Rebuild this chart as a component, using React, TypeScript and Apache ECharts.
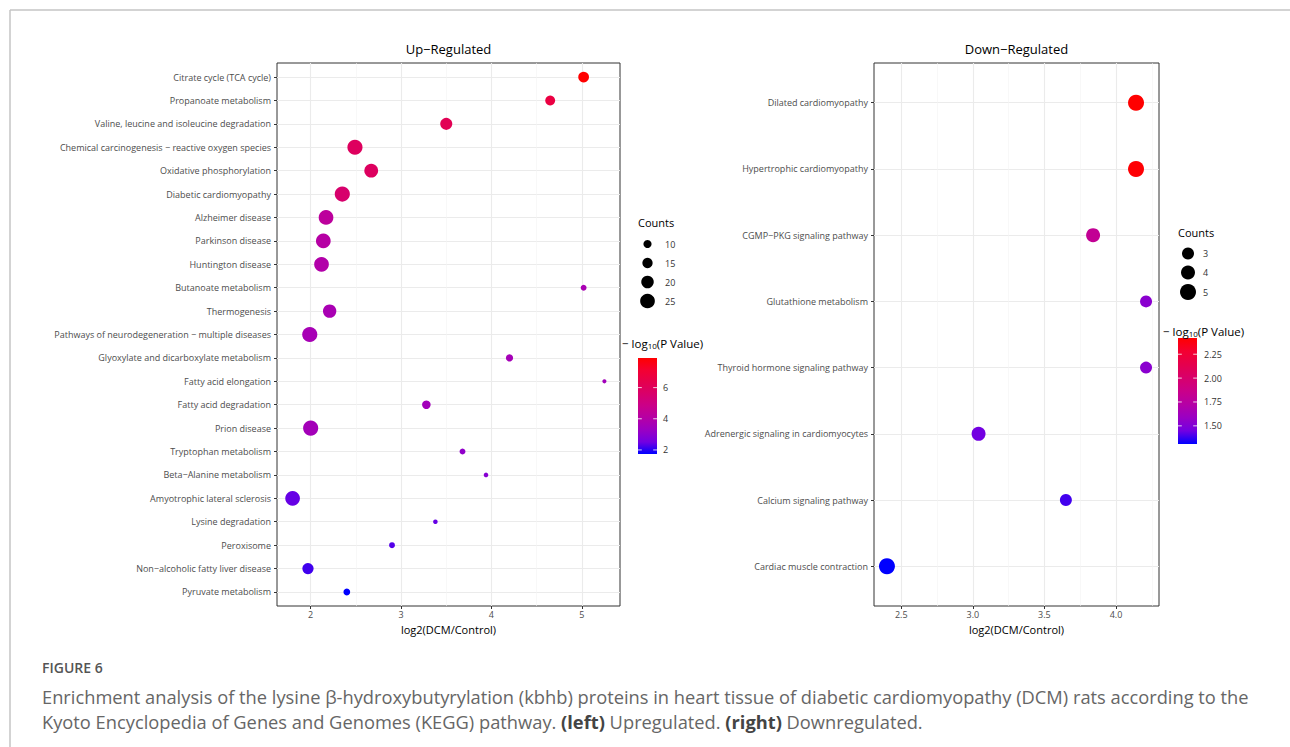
import React, { useEffect, useRef } from "react";
import * as echarts from "echarts";

// ---------------- DATA ----------------
const upCategories = [
  "Citrate cycle (TCA cycle)",
  "Propanoate metabolism",
  "Valine, leucine and isoleucine degradation",
  "Chemical carcinogenesis − reactive oxygen species",
  "Oxidative phosphorylation",
  "Diabetic cardiomyopathy",
  "Alzheimer disease",
  "Parkinson disease",
  "Huntington disease",
  "Butanoate metabolism",
  "Thermogenesis",
  "Pathways of neurodegeneration − multiple diseases",
  "Glyoxylate and dicarboxylate metabolism",
  "Fatty acid elongation",
  "Fatty acid degradation",
  "Prion disease",
  "Tryptophan metabolism",
  "Beta−Alanine metabolism",
  "Amyotrophic lateral sclerosis",
  "Lysine degradation",
  "Peroxisome",
  "Non−alcoholic fatty liver disease",
  "Pyruvate metabolism",
];
const upLog2FC = [5.02, 4.65, 3.5, 2.49, 2.67, 2.35, 2.17, 2.14, 2.12, 5.02, 2.21, 1.99, 4.2, 5.25, 3.28, 2.0, 3.68, 3.94, 1.8, 3.38, 2.9, 1.97, 2.4];
const upCounts = [16, 14, 19, 26, 23, 26, 25, 25, 25, 5, 22, 26, 8, 1, 11, 26, 5, 2, 25, 2, 5, 17, 7];
const upNegLogP = [7.9, 6.67, 6.18, 5.93, 5.9, 5.56, 4.3, 4.08, 3.96, 3.7, 3.7, 3.65, 3.6, 3.5, 3.5, 3.55, 3.1, 2.9, 2.42, 2.42, 2.3, 2.17, 1.74];

const downCategories = [
  "Dilated cardiomyopathy",
  "Hypertrophic cardiomyopathy",
  "CGMP−PKG signaling pathway",
  "Glutathione metabolism",
  "Thyroid hormone signaling pathway",
  "Adrenergic signaling in cardiomyocytes",
  "Calcium signaling pathway",
  "Cardiac muscle contraction",
];
const downLog2FC = [4.14, 4.14, 3.84, 4.21, 4.21, 3.04, 3.65, 2.4];
const downCounts = [5, 5, 4, 3, 3, 4, 3, 5];
const downNegLogP = [2.42, 2.41, 1.81, 1.53, 1.53, 1.45, 1.39, 1.31];

const upXTicks = [2, 3, 4, 5];
const downXTicks = [2.5, 3.0, 3.5, 4.0];
const upCountBreaks = [10, 15, 20, 25];
const downCountBreaks = [3, 4, 5];
const upPBreaks = [2, 4, 6];
const downPBreaks = [1.5, 1.75, 2.0, 2.25];

// ---------------- STYLE ----------------
const FONT = "'Open Sans', sans-serif";
const CAP_FONT = "'Open Sans', sans-serif";
// blue -> red interpolated in CIELAB (ggplot2 gradient)
const LAB_STOPS = ["#0000FF", "#7300E1", "#9A00C3", "#B500A5", "#CA0089", "#D8006B", "#E5004D", "#F40031", "#FF0000"];

const sizeUp = (c: number) => 3.7 + 0.44 * c;
const sizeDown = (c: number) => 6 + 2 * c;

const UP = { x0: 277, x1: 620, y0: 63, y1: 606 };
const DOWN = { x0: 874, x1: 1159, y0: 63, y1: 606 };

function expand(vals: number[]) {
  const mn = Math.min(...vals);
  const mx = Math.max(...vals);
  const d = (mx - mn) * 0.05;
  return [mn - d, mx + d];
}

function minorsOf(ticks: number[], lo: number, hi: number) {
  const step = ticks[1] - ticks[0];
  const out: number[] = [];
  for (let i = -1; i < ticks.length; i++) {
    const v = (i < 0 ? ticks[0] - step : ticks[i]) + step / 2;
    if (v > lo && v < hi) out.push(v);
  }
  return out;
}

function buildPanel(
  P: { x0: number; x1: number; y0: number; y1: number },
  cats: string[],
  xs: number[],
  counts: number[],
  ps: number[],
  ticks: number[],
  fmt: (v: number) => string,
  sizeFn: (c: number) => number,
  gi: number
) {
  const [lo, hi] = expand(xs);
  const n = cats.length;
  const spacing = (P.y1 - P.y0) / (n - 1 + 1.2);
  const catTop = P.y0 + 0.6 * spacing;
  const catBottom = P.y1 - 0.6 * spacing;
  const grids = [
    { left: P.x0, top: P.y0, width: P.x1 - P.x0, height: P.y1 - P.y0, show: true, borderColor: "#333", borderWidth: 1, backgroundColor: "transparent" },
    { left: P.x0, top: catTop, width: P.x1 - P.x0, height: catBottom - catTop, show: false },
  ];
  const xAxes = [
    {
      gridIndex: gi, type: "value", min: lo, max: hi,
      axisLine: { show: false },
      axisTick: { show: true, length: 3, lineStyle: { color: "#333" }, customValues: ticks },
      axisLabel: { fontSize: 9, color: "#4d4d4d", margin: 4, fontFamily: FONT, customValues: ticks, formatter: fmt },
      splitLine: { show: false },
      name: "log2(DCM/Control)", nameLocation: "middle", nameGap: 16,
      nameTextStyle: { fontSize: 11, color: "#000", fontFamily: FONT },
    },
    { gridIndex: gi + 1, type: "value", min: lo, max: hi, show: false, splitLine: { show: false } },
  ];
  const yAxes = [
    { gridIndex: gi, type: "value", min: 0, max: 1, show: false, splitLine: { show: false } },
    {
      gridIndex: gi + 1, type: "category", data: cats, inverse: true, boundaryGap: false,
      axisLine: { show: false },
      axisTick: { show: true, length: 3, lineStyle: { color: "#333" } },
      axisLabel: { fontSize: 9, color: "#4d4d4d", margin: 6, fontFamily: FONT, interval: 0 },
      splitLine: { show: true, lineStyle: { color: "#ebebeb", width: 1.1 } },
    },
  ];
  const minors = minorsOf(ticks, lo, hi);
  const series = [
    {
      type: "scatter", xAxisIndex: gi, yAxisIndex: gi, data: [], silent: true, z: 0,
      markLine: {
        silent: true, symbol: "none", label: { show: false }, animation: false, z: 0,
        data: [
          ...ticks.map((v) => ({ xAxis: v, lineStyle: { color: "#ebebeb", width: 1.1, type: "solid" } })),
          ...minors.map((v) => ({ xAxis: v, lineStyle: { color: "#f3f3f3", width: 0.6, type: "solid" } })),
        ],
      },
    },
    {
      type: "scatter", xAxisIndex: gi + 1, yAxisIndex: gi + 1, z: 10,
      data: cats.map((c, i) => [xs[i], c, ps[i], counts[i]]),
      symbol: "circle",
      symbolSize: (val: any) => sizeFn(val[3]),
      itemStyle: { opacity: 1 },
    },
  ];
  return { grids, xAxes, yAxes, series, pmin: Math.min(...ps), pmax: Math.max(...ps) };
}

function legendGraphics(
  countsTitle: { x: number; y: number },
  circX: number, circYs: number[], labX: number, breaks: number[], sizeFn: (c: number) => number,
  cbTitle: { x: number; y: number },
  bar: { x0: number; x1: number; y0: number; y1: number },
  pmin: number, pmax: number, pBreaks: number[], pFmt: (v: number) => string, cbLabX: number
) {
  const g: any[] = [];
  g.push({ type: "text", z: 20, style: { text: "Counts", x: countsTitle.x, y: countsTitle.y, fontSize: 11, fontFamily: FONT, fill: "#000", verticalAlign: "middle" } });
  breaks.forEach((b, i) => {
    g.push({ type: "circle", z: 20, shape: { cx: circX, cy: circYs[i], r: sizeFn(b) / 2 }, style: { fill: "#000" } });
    g.push({ type: "text", z: 20, style: { text: String(b), x: labX, y: circYs[i], fontSize: 9, fontFamily: FONT, fill: "#333", verticalAlign: "middle" } });
  });
  g.push({
    type: "text", z: 22,
    style: {
      text: "{a|− log}{s|10}{a|(P Value)}", x: cbTitle.x, y: cbTitle.y, verticalAlign: "bottom",
      rich: {
        a: { fontSize: 11.5, fontFamily: FONT, fill: "#000", lineHeight: 14 },
        s: { fontSize: 8, fontFamily: FONT, fill: "#000", lineHeight: 14, padding: [4, 0, 0, 0] },
      },
    },
  });
  g.push({
    type: "rect", z: 20,
    shape: { x: bar.x0, y: bar.y0, width: bar.x1 - bar.x0, height: bar.y1 - bar.y0 },
    style: {
      fill: new echarts.graphic.LinearGradient(0, 1, 0, 0, LAB_STOPS.map((c, i) => ({ offset: i / (LAB_STOPS.length - 1), color: c }))),
    },
  });
  pBreaks.forEach((v) => {
    const y = bar.y1 - ((v - pmin) / (pmax - pmin)) * (bar.y1 - bar.y0);
    const w = (bar.x1 - bar.x0) / 5;
    g.push({ type: "line", z: 21, shape: { x1: bar.x0, y1: y, x2: bar.x0 + w, y2: y }, style: { stroke: "#fff", lineWidth: 0.8 } });
    g.push({ type: "line", z: 21, shape: { x1: bar.x1 - w, y1: y, x2: bar.x1, y2: y }, style: { stroke: "#fff", lineWidth: 0.8 } });
    g.push({ type: "text", z: 20, style: { text: pFmt(v), x: cbLabX, y, fontSize: 9, fontFamily: FONT, fill: "#333", verticalAlign: "middle" } });
  });
  return g;
}

function buildOption() {
  const up = buildPanel(UP, upCategories, upLog2FC, upCounts, upNegLogP, upXTicks, (v) => String(v), sizeUp, 0);
  const down = buildPanel(DOWN, downCategories, downLog2FC, downCounts, downNegLogP, downXTicks, (v) => Number(v).toFixed(1), sizeDown, 2);

  const graphic: any[] = [
    { type: "line", shape: { x1: 10, y1: 10, x2: 1290, y2: 10 }, style: { stroke: "#c4c4c4", lineWidth: 1.5 } },
    { type: "line", shape: { x1: 10, y1: 10, x2: 10, y2: 747 }, style: { stroke: "#c4c4c4", lineWidth: 1.5 } },
    { type: "text", style: { text: "Up−Regulated", x: (UP.x0 + UP.x1) / 2, y: 49, fontSize: 13, fontFamily: FONT, fill: "#000", align: "center", verticalAlign: "middle" } },
    { type: "text", style: { text: "Down−Regulated", x: (DOWN.x0 + DOWN.x1) / 2, y: 49, fontSize: 13, fontFamily: FONT, fill: "#000", align: "center", verticalAlign: "middle" } },
    ...legendGraphics({ x: 638, y: 222.5 }, 647.5, [244, 263, 282, 301], 665, upCountBreaks, sizeUp,
      { x: 622, y: 350 }, { x0: 638, x1: 657, y0: 358, y1: 454 }, up.pmin, up.pmax, upPBreaks, (v) => String(v), 663),
    ...legendGraphics({ x: 1178, y: 232 }, 1188, [253.5, 272.5, 292], 1203, downCountBreaks, sizeDown,
      { x: 1163, y: 338.5 }, { x0: 1178, x1: 1197, y0: 338, y1: 444 }, down.pmin, down.pmax, downPBreaks, (v) => v.toFixed(2), 1204),
    { type: "text", style: { text: "FIGURE 6", x: 42, y: 667, fontSize: 14, fontWeight: 600, fontFamily: CAP_FONT, fill: "#555", verticalAlign: "middle" } },
    {
      type: "text",
      style: {
        text: "Enrichment analysis of the lysine β-hydroxybutyrylation (kbhb) proteins in heart tissue of diabetic cardiomyopathy (DCM) rats according to the",
        x: 42, y: 696, fontSize: 18.3, fontFamily: CAP_FONT, fill: "#666", verticalAlign: "middle",
      },
    },
    {
      type: "text",
      style: {
        text: "{n|Kyoto Encyclopedia of Genes and Genomes (KEGG) pathway. }{b|(left)}{n| Upregulated. }{b|(right)}{n| Downregulated.}",
        x: 42, y: 721, verticalAlign: "middle",
        rich: {
          n: { fontSize: 18.3, fontFamily: CAP_FONT, fill: "#666" },
          b: { fontSize: 18.3, fontFamily: CAP_FONT, fill: "#444", fontWeight: "bold" },
        },
      },
    },
  ];

  return {
    animation: false,
    backgroundColor: "#fff",
    textStyle: { fontFamily: FONT },
    grid: [...up.grids, ...down.grids],
    xAxis: [...up.xAxes, ...down.xAxes],
    yAxis: [...up.yAxes, ...down.yAxes],
    visualMap: [
      { type: "continuous", show: false, seriesIndex: 1, dimension: 2, min: up.pmin, max: up.pmax, inRange: { color: LAB_STOPS } },
      { type: "continuous", show: false, seriesIndex: 3, dimension: 2, min: down.pmin, max: down.pmax, inRange: { color: LAB_STOPS } },
    ],
    series: [...up.series, ...down.series],
    graphic,
  };
}

export default function App() {
  const ref = useRef<HTMLDivElement>(null);
  useEffect(() => {
    document.body.style.margin = "0";
    const chart = echarts.init(ref.current as HTMLDivElement, null, { renderer: "svg" });
    chart.setOption(buildOption() as any);
    return () => chart.dispose();
  }, []);
  return <div ref={ref} style={{ width: 1290, height: 747 }} />;
}
